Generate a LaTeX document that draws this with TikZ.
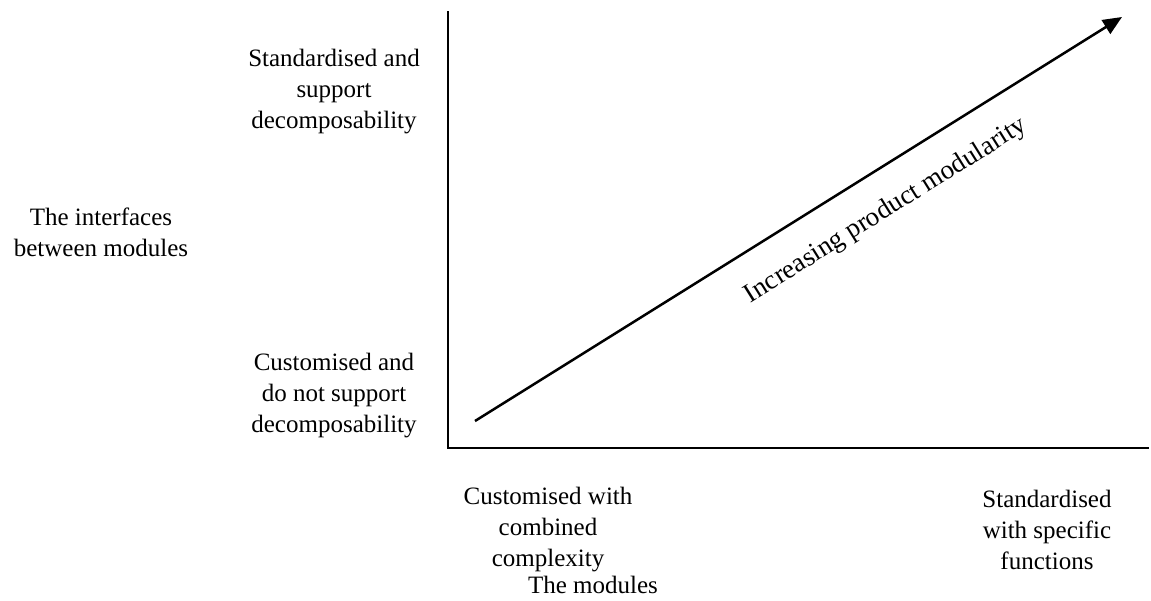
\documentclass[tikz,border=0pt]{standalone}
\usepackage{fontspec}
\setmainfont{Liberation Serif}
\usetikzlibrary{arrows.meta}
\begin{document}
\begin{tikzpicture}[x=1pt,y=-1pt,
  axis/.style={line width=2.5pt},
  trend/.style={line width=2.5pt,-{Triangle[length=19pt,width=16pt]}},
  lbl/.style={align=center,inner sep=0pt,font=\fontsize{25}{31}\selectfont}]
  \useasboundingbox (0,0) rectangle (1151,600);
  % axes
  \coordinate (top) at (448,11);
  \coordinate (origin) at (448,448);
  \coordinate (right) at (1149,448);
  \draw[axis] (top) -- (origin) -- (right);
  % trend arrow
  \coordinate (start) at (475,421);
  \coordinate (tip) at (1122,17);
  \draw[trend] (start) -- (tip);
  \node[lbl,font=\fontsize{27}{31}\selectfont,rotate=32] (trendlbl) at (886,211) {Increasing product modularity};
  % vertical axis labels
  \node[lbl] (ytitle) at (101,232) {The interfaces\\between modules};
  \node[lbl] (yhigh) at (334,92) {Standardised and\\support\\decomposability};
  \node[lbl] (ylow) at (334,396) {Customised and\\do not support\\decomposability};
  % horizontal axis labels
  \node[lbl] (xlow) at (548,530) {Customised with\\combined\\complexity};
  \node[lbl] (xhigh) at (1047,530) {Standardised\\with specific\\functions};
  \node[lbl] (xtitle) at (593,585) {The modules};
\end{tikzpicture}
\end{document}
